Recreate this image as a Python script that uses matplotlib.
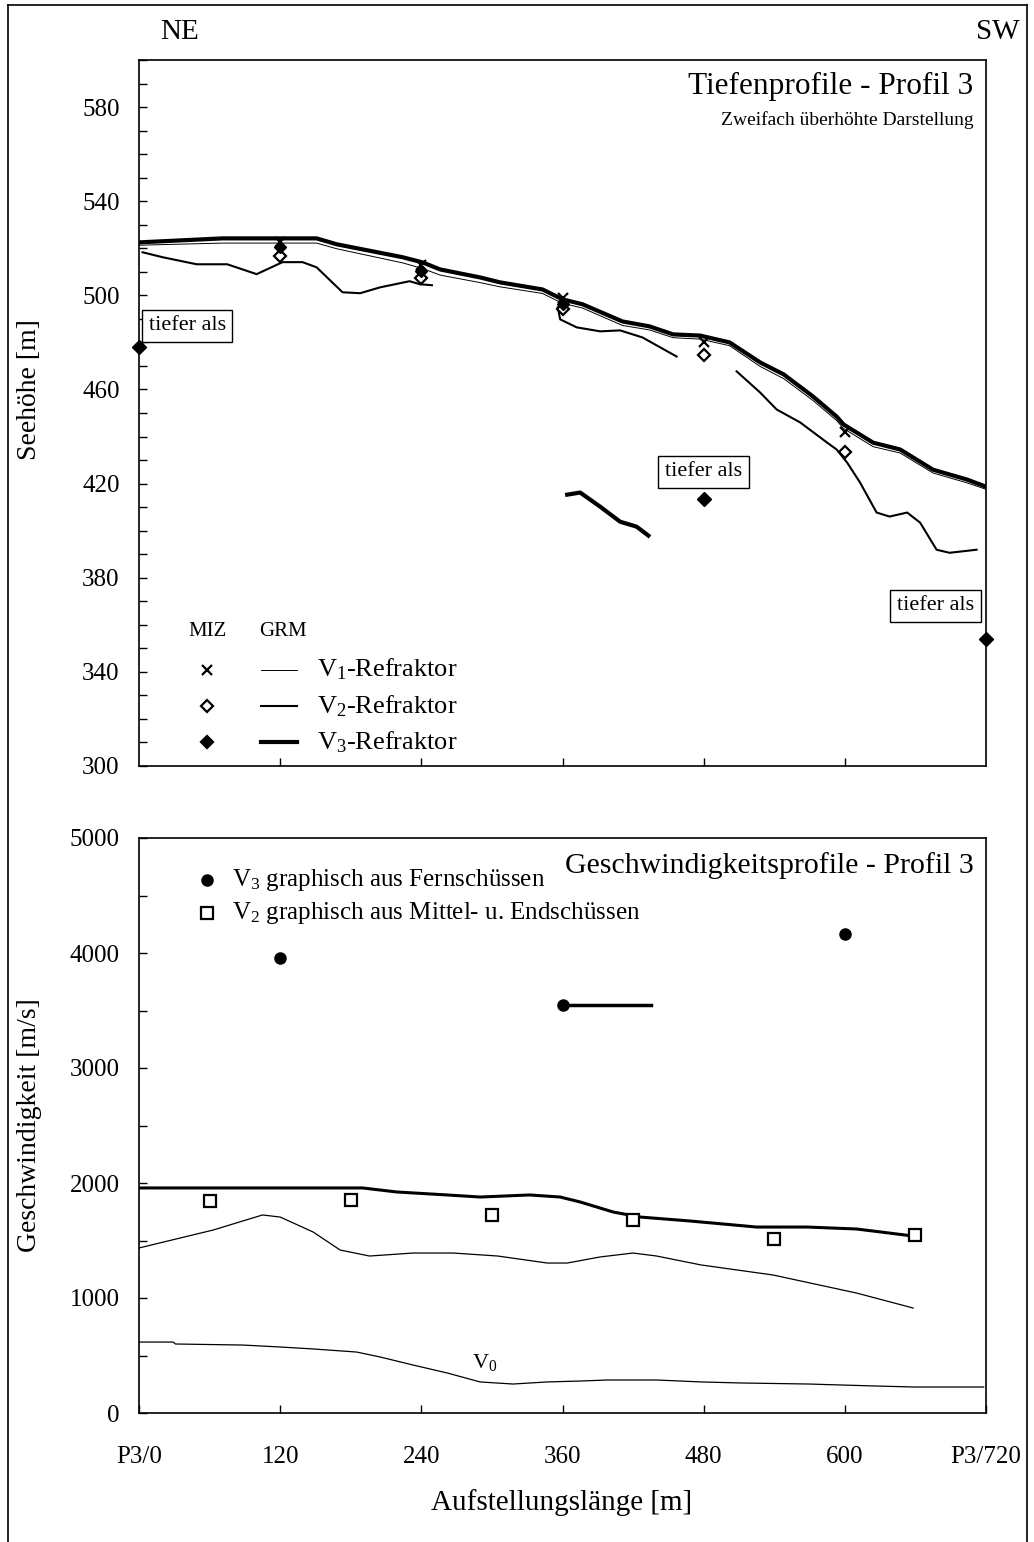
import matplotlib
matplotlib.use("Agg")
import matplotlib.pyplot as plt
from matplotlib.ticker import MultipleLocator
from matplotlib.lines import Line2D

plt.rcParams["font.family"] = ["Liberation Serif", "DejaVu Serif"]
plt.rcParams["mathtext.fontset"] = "custom"
plt.rcParams["mathtext.rm"] = "Liberation Serif"
plt.rcParams["mathtext.it"] = "Liberation Serif"

# ── top panel: depth profiles (GRM lines) ─────────────
x_v3 = [0, 71, 151, 168, 224, 241, 256, 290, 307, 343, 360, 377, 411, 434, 454,
        477, 502, 528, 548, 573, 593, 599, 624, 647, 675, 704, 720]
y_v3 = [522.5, 524.2, 524.2, 521.7, 516.2, 514.0, 511.0, 507.6, 505.5, 502.5, 498.3,
        496.2, 488.9, 486.8, 483.4, 482.9, 480.0, 471.5, 466.4, 457.0, 448.5, 445.1,
        437.4, 434.5, 425.9, 421.7, 418.7]
y_v1 = [521.3, 522.2, 522.2, 519.8, 513.8, 511.4, 508.6, 505.4, 503.6, 500.8, 496.6,
        494.6, 487.2, 485.3, 482.0, 481.4, 478.6, 469.8, 464.6, 455.3, 446.8, 443.4,
        435.7, 433.0, 424.5, 420.3, 417.6]

# V2 refractor, three separate segments
v2_seg1_x = [3, 20, 49, 75, 100, 122, 139, 151, 173, 188, 205, 230, 239, 249]
v2_seg1_y = [518.3, 516.2, 513.2, 513.2, 509.0, 514.1, 514.1, 511.9, 501.3, 500.9,
             503.4, 506.0, 504.7, 504.3]
v2_seg2_x = [356, 358, 372, 392, 409, 428, 457]
v2_seg2_y = [494.9, 489.8, 486.4, 484.7, 485.1, 482.1, 474.0]
v2_seg3_x = [508, 528, 542, 562, 585, 593, 602, 613, 627, 638, 653, 664, 678, 689, 712]
v2_seg3_y = [467.7, 458.7, 451.5, 446.0, 437.4, 434.5, 428.9, 420.4, 407.7, 406.0,
             407.7, 403.4, 391.9, 390.6, 391.9]

# isolated V3 piece
v3_seg_x = [364, 375, 392, 409, 423, 433]
v3_seg_y = [415.3, 416.2, 410.2, 403.8, 401.7, 397.9]

# MIZ points
miz_x = [120, 240, 360, 480, 600]
miz_v1 = [522.5, 513.0, 498.7, 480.0, 442.0]
miz_v2 = [516.6, 507.2, 494.0, 474.5, 433.5]
miz_v3_x = [120, 240, 360]
miz_v3 = [520.4, 510.2, 496.2]
deep_x = [0, 480, 720]
deep_y = [478.0, 413.5, 354.0]
deep_label_x = [41, 480, 677]
deep_label_y = [487, 425, 368]

# ── bottom panel: velocity profiles ───────────────
vx_grm2 = [0, 190, 219, 262, 290, 332, 358, 375, 403, 426, 468, 525, 568, 610, 658]
vv_grm2 = [1957, 1957, 1922, 1896, 1878, 1896, 1878, 1835, 1748, 1704, 1670, 1617,
           1617, 1600, 1539]
vx_grm1 = [0, 63, 105, 120, 148, 171, 196, 233, 267, 305, 347, 364, 392, 420, 440,
           478, 539, 610, 658]
vv_grm1 = [1435, 1591, 1722, 1704, 1574, 1417, 1365, 1391, 1391, 1365, 1304, 1304,
           1357, 1391, 1365, 1287, 1200, 1043, 913]
vx_v0 = [0, 29, 31, 88, 120, 148, 185, 205, 233, 262, 290, 318, 347, 375, 398, 440,
         478, 512, 569, 625, 659, 718]
vv_v0 = [617, 617, 600, 591, 574, 557, 530, 487, 417, 348, 270, 252, 270, 278, 287,
         287, 270, 261, 252, 235, 226, 226]
v3_pts_x = [120, 360, 600]
v3_pts_v = [3960, 3550, 4165]
v3_bar_x = [360, 435]
v3_bar_v = [3550, 3550]
v2_sq_x = [60, 180, 300, 420, 540, 660]
v2_sq_v = [1843, 1852, 1722, 1678, 1513, 1548]

xticks = [0, 120, 240, 360, 480, 600, 720]
xtick_labels = ["P3/0", "120", "240", "360", "480", "600", "P3/720"]

W, H = 1034, 1542
fig = plt.figure(figsize=(W / 100, H / 100), dpi=100)


def px_axes(left, top, right, bottom):
    return fig.add_axes([left / W, 1 - bottom / H, (right - left) / W, (bottom - top) / H])


def style(ax):
    ax.tick_params(which="both", direction="in", length=6, width=1, top=False,
                   right=False, labelsize=18)
    for s in ax.spines.values():
        s.set_linewidth(1.2)


# outer frame
fig.add_artist(Line2D([8 / W, 8 / W], [0, 1 - 5 / H], color="black", lw=1.2))
fig.add_artist(Line2D([1027 / W, 1027 / W], [0, 1 - 5 / H], color="black", lw=1.2))
fig.add_artist(Line2D([8 / W, 1027 / W], [1 - 5 / H, 1 - 5 / H], color="black", lw=1.2))

# ── top panel ────────────────────────────────────
ax1 = px_axes(139, 60, 986, 766)
ax1.set_xlim(0, 720); ax1.set_ylim(300, 600)
ax1.plot(x_v3, y_v1, color="black", lw=0.7)
ax1.plot(x_v3, y_v3, color="black", lw=3.0)
ax1.plot(v2_seg1_x, v2_seg1_y, color="black", lw=1.5)
ax1.plot(v2_seg2_x, v2_seg2_y, color="black", lw=1.5)
ax1.plot(v2_seg3_x, v2_seg3_y, color="black", lw=1.5)
ax1.plot(v3_seg_x, v3_seg_y, color="black", lw=3.0)
ax1.plot(miz_x, miz_v1, "x", color="black", ms=7, mew=1.6)
ax1.plot(miz_x, miz_v2, "D", mfc="white", mec="black", ms=6, mew=1.6)
ax1.plot(miz_v3_x, miz_v3, "D", color="black", ms=6)
ax1.plot(deep_x, deep_y, "D", color="black", ms=7, clip_on=False, zorder=5)
for lx, ly in zip(deep_label_x, deep_label_y):
    ax1.text(lx, ly, "tiefer als", ha="center", va="center", fontsize=16,
             bbox=dict(boxstyle="square,pad=0.3", fc="white", ec="black", lw=1))
ax1.set_xticks(xticks[1:-1]); ax1.set_xticklabels([])
ax1.yaxis.set_minor_locator(MultipleLocator(10))
ax1.set_yticks(range(300, 600, 40))
style(ax1)
ax1.tick_params(axis="y", which="both", pad=14)

ax1.text(0.985, 0.963, "Tiefenprofile - Profil 3", transform=ax1.transAxes,
         ha="right", va="center", fontsize=22.5)
ax1.text(0.985, 0.915, "Zweifach überhöhte Darstellung", transform=ax1.transAxes,
         ha="right", va="center", fontsize=14)

# hand-made legend
ax1.text(58, 357, "MIZ", ha="center", va="center", fontsize=15)
ax1.text(122, 357, "GRM", ha="center", va="center", fontsize=15)
leg_rows = [(341, "x", "white", 0.7, "V$_\\mathrm{1}$-Refraktor"),
            (325.5, "D", "white", 1.5, "V$_\\mathrm{2}$-Refraktor"),
            (310, "D", "black", 3.0, "V$_\\mathrm{3}$-Refraktor")]
for ly, mk, fc, lw, lab in leg_rows:
    if mk == "x":
        ax1.plot([58], [ly], "x", color="black", ms=7, mew=1.6)
    else:
        ax1.plot([58], [ly], "D", mfc=fc, mec="black", ms=6, mew=1.6)
    ax1.plot([104, 134], [ly, ly], color="black", lw=lw)
    ax1.text(151, ly, lab, ha="left", va="center", fontsize=19)

# ── bottom panel ─────────────────────────────────
ax2 = px_axes(139, 838, 986, 1413)
ax2.set_xlim(0, 720); ax2.set_ylim(0, 5000)
ax2.plot(vx_grm2, vv_grm2, color="black", lw=2.2)
ax2.plot(vx_grm1, vv_grm1, color="black", lw=0.9)
ax2.plot(vx_v0, vv_v0, color="black", lw=0.9)
ax2.plot(v3_bar_x, v3_bar_v, color="black", lw=2.5)
ax2.plot(v3_pts_x, v3_pts_v, "o", color="black", ms=8)
ax2.plot(v2_sq_x, v2_sq_v, "s", mfc="white", mec="black", ms=8, mew=1.6)
ax2.text(294, 435, "V$_\\mathrm{0}$", ha="center", va="center", fontsize=16)

ax2.set_xticks(xticks); ax2.set_xticklabels(xtick_labels)
ax2.yaxis.set_major_locator(MultipleLocator(1000))
ax2.yaxis.set_minor_locator(MultipleLocator(500))
style(ax2)
ax2.tick_params(axis="y", which="both", pad=14)
ax2.tick_params(axis="x", pad=24)

ax2.text(0.985, 0.953, "Geschwindigkeitsprofile - Profil 3", transform=ax2.transAxes,
         ha="right", va="center", fontsize=21.5)
ax2.plot([58], [4635], "o", color="black", ms=8)
ax2.text(79, 4635, "V$_\\mathrm{3}$ graphisch aus Fernschüssen", ha="left",
         va="center", fontsize=18)
ax2.plot([58], [4348], "s", mfc="white", mec="black", ms=8, mew=1.6)
ax2.text(79, 4348, "V$_\\mathrm{2}$ graphisch aus Mittel- u. Endschüssen", ha="left",
         va="center", fontsize=18)

# axis titles and orientation labels
fig.text(30 / W, 1 - 390 / H, "Seehöhe [m]", rotation=90, ha="center", va="center", fontsize=20)
fig.text(30 / W, 1 - 1125 / H, "Geschwindigkeit [m/s]", rotation=90, ha="center",
         va="center", fontsize=20)
fig.text(562 / W, 1 - 1503 / H, "Aufstellungslänge [m]", ha="center", va="center", fontsize=21)
fig.text(180 / W, 1 - 32 / H, "NE", ha="center", va="center", fontsize=21)
fig.text(998 / W, 1 - 32 / H, "SW", ha="center", va="center", fontsize=21)

fig.savefig("out.png", dpi=100, facecolor="white")
